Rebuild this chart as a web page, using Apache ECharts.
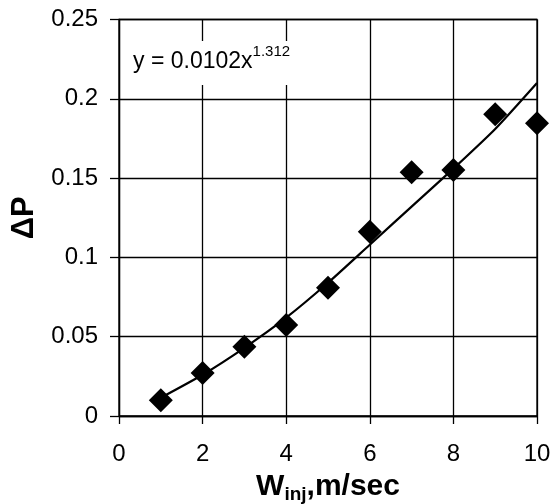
<!DOCTYPE html>
<html>
<head>
<meta charset="utf-8">
<script src="https://cdn.jsdelivr.net/npm/echarts@6/dist/echarts.min.js"></script>
<style>
  html, body { margin: 0; padding: 0; background: #fff; }
  #chart { width: 550px; height: 504px; }
</style>
</head>
<body>
<div id="chart"></div>
<script>
// measured points (W_inj, dP)
const speeds = [1, 2, 3, 4, 5, 6, 7, 8, 9, 10];
const dP = [0.0099, 0.0271, 0.0436, 0.0573, 0.0808, 0.1162, 0.1537, 0.1551, 0.1903, 0.1846];
// power trendline
const trendX = [1, 2, 3, 4, 5, 6, 7, 8, 9, 10];
const trendY = [0.0115, 0.026, 0.043, 0.062, 0.084, 0.108, 0.132, 0.156, 0.181, 0.210];
const xTicks = [0, 10, 2];
const yTicks = [0, 0.25, 0.05];
const equation = ["y = 0.0102x", "1.312"];

const font = "Arial, 'Liberation Sans', sans-serif";
const chart = echarts.init(document.getElementById("chart"));

chart.setOption({
  animation: false,
  backgroundColor: "#fff",
  grid: {
    left: 119, right: 13, top: 19.5, bottom: 88,
    containLabel: false, outerBoundsMode: "none",
    show: true, borderColor: "#000", borderWidth: 1.3,
  },
  title: {
    text: `{a|${equation[0]}}{b|${equation[1]}}`,
    left: 127,
    top: 38,
    backgroundColor: "#fff",
    padding: [3, 6, 12, 6],
    textStyle: {
      rich: {
        a: { fontFamily: font, fontWeight: "normal", fontSize: 23, color: "#000", lineHeight: 32, verticalAlign: "bottom" },
        b: { fontFamily: font, fontWeight: "normal", fontSize: 15, color: "#000", lineHeight: 32, verticalAlign: "bottom", padding: [0, 0, 14, 0] },
      },
    },
  },
  xAxis: {
    type: "value",
    min: xTicks[0],
    max: xTicks[1],
    interval: xTicks[2],
    name: "{w|W}{s|inj}{w|,m/sec}",
    nameLocation: "middle",
    nameGap: 54,
    nameTextStyle: {
      rich: {
        w: { fontFamily: font, fontWeight: "bold", fontSize: 30, color: "#000", lineHeight: 34 },
        s: { fontFamily: font, fontWeight: "bold", fontSize: 19, color: "#000", lineHeight: 34, verticalAlign: "bottom", padding: [7, 0, 0, 0] },
      },
    },
    axisLine: { onZero: false, lineStyle: { color: "#000", width: 1.3 } },
    axisTick: { show: true, inside: false, length: 8, lineStyle: { color: "#000", width: 1.3 } },
    axisLabel: { fontFamily: font, fontSize: 24, color: "#000", margin: 26 },
    splitLine: { show: true, lineStyle: { color: "#000", width: 1.3 } },
  },
  yAxis: {
    type: "value",
    min: yTicks[0],
    max: yTicks[1],
    interval: yTicks[2],
    name: "ΔP",
    nameLocation: "middle",
    nameRotate: 90,
    nameGap: 73,
    nameTextStyle: { fontFamily: font, fontWeight: "bold", fontSize: 31, color: "#000" },
    axisLine: { onZero: false, lineStyle: { color: "#000", width: 1.3 } },
    axisTick: { show: true, inside: false, length: 9, lineStyle: { color: "#000", width: 1.3 } },
    axisLabel: { fontFamily: font, fontSize: 24, color: "#000", margin: 21 },
    splitLine: { show: true, lineStyle: { color: "#000", width: 1.3 } },
  },
  series: [
    {
      type: "line",
      data: trendX.map((x, i) => [x, trendY[i]]),
      showSymbol: false,
      smooth: 0.2,
      lineStyle: { color: "#000", width: 2.2 },
      z: 3,
    },
    {
      type: "scatter",
      data: speeds.map((x, i) => [x, dP[i]]),
      symbol: "diamond",
      symbolSize: [24, 24],
      itemStyle: { color: "#000", opacity: 1 },
      z: 4,
    },
  ],
});
</script>
</body>
</html>
